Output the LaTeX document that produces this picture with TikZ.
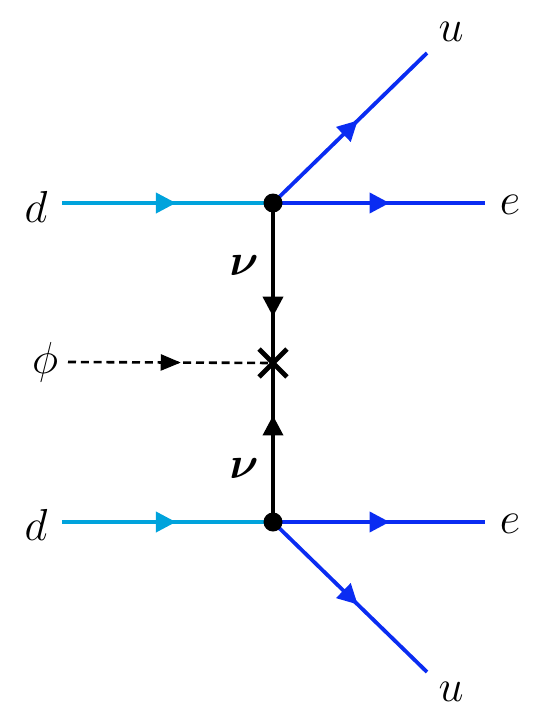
\documentclass[tikz,border=0pt]{standalone}
\usepackage{amsmath,bm}
\usetikzlibrary{arrows.meta, positioning, shapes.misc, decorations.markings, backgrounds}
\definecolor{ccyan}{HTML}{00A3DC}
\definecolor{cblue}{HTML}{0A2CF2}
\tikzset{
  every picture/.style={x=0.5pt, y=-0.5pt},
  vertex/.style={circle, fill=black, inner sep=0pt, minimum size=9.5pt},
  crossmark/.style={cross out, draw=black, line width=2.4pt, inner sep=0pt, minimum size=11.5pt},
  lbl/.style={font=\huge, inner sep=0pt, scale=1.08},
  fermion/.style={draw=#1, line width=1.9pt, postaction={decorate}},
  fermion/.default=black,
  tipat/.style={decoration={markings, mark=at position #1 with {\arrow{Triangle[length=10pt, width=10pt]}}}},
  scalar/.style={draw=black, line width=1.3pt, dash pattern=on 4pt off 2.4pt, postaction={decorate},
    decoration={markings, mark=at position #1 with {\arrow{Triangle[length=10pt, width=8pt]}}}},
}
\begin{document}
\begin{tikzpicture}
  \useasboundingbox (0,0) rectangle (554,718);
  % vertices and mass insertion
  \node[vertex] (vtop) at (273,203) {};
  \node[vertex] (vbot) at (273,522) {};
  \node[crossmark] (mix) at (273,363) {};
  % free ends
  \coordinate (din1) at (62,203);
  \coordinate (din2) at (62,522);
  \coordinate (eout1) at (485,203);
  \coordinate (eout2) at (485,522);
  \coordinate (uout1) at (427,53);
  \coordinate (uout2) at (427,672);
  \coordinate (phin) at (68,362);
  % labels
  \node[lbl] (dl1) at (36,207) {$d$};
  \node[lbl] (dl2) at (36,525) {$d$};
  \node[lbl] (el1) at (510,205) {$e$};
  \node[lbl] (el2) at (510,524) {$e$};
  \node[lbl] (ul1) at (451,32) {$u$};
  \node[lbl] (ul2) at (451,692) {$u$};
  \node[lbl] (nul1) at (244,266) {$\bm{\nu}$};
  \node[lbl] (nul2) at (244,469) {$\bm{\nu}$};
  \node[lbl] (phil) at (45,362) {$\phi$};
  \begin{scope}[on background layer]
    % top vertex
    \draw[fermion=ccyan, tipat=0.54] (din1) -- (vtop.center);
    \draw[fermion=cblue, tipat=0.55] (vtop.center) -- (eout1);
    \draw[fermion=cblue, tipat=0.55] (vtop.center) -- (uout1);
    % bottom vertex
    \draw[fermion=ccyan, tipat=0.54] (din2) -- (vbot.center);
    \draw[fermion=cblue, tipat=0.55] (vbot.center) -- (eout2);
    \draw[fermion=cblue, tipat=0.55] (vbot.center) -- (uout2);
    % neutrino lines
    \draw[fermion, tipat=0.71] (vtop.center) -- (mix.center);
    \draw[fermion, tipat=0.67] (vbot.center) -- (mix.center);
    % scalar
    \draw[scalar=0.55] (phin) -- (mix.center);
  \end{scope}
\end{tikzpicture}
\end{document}
